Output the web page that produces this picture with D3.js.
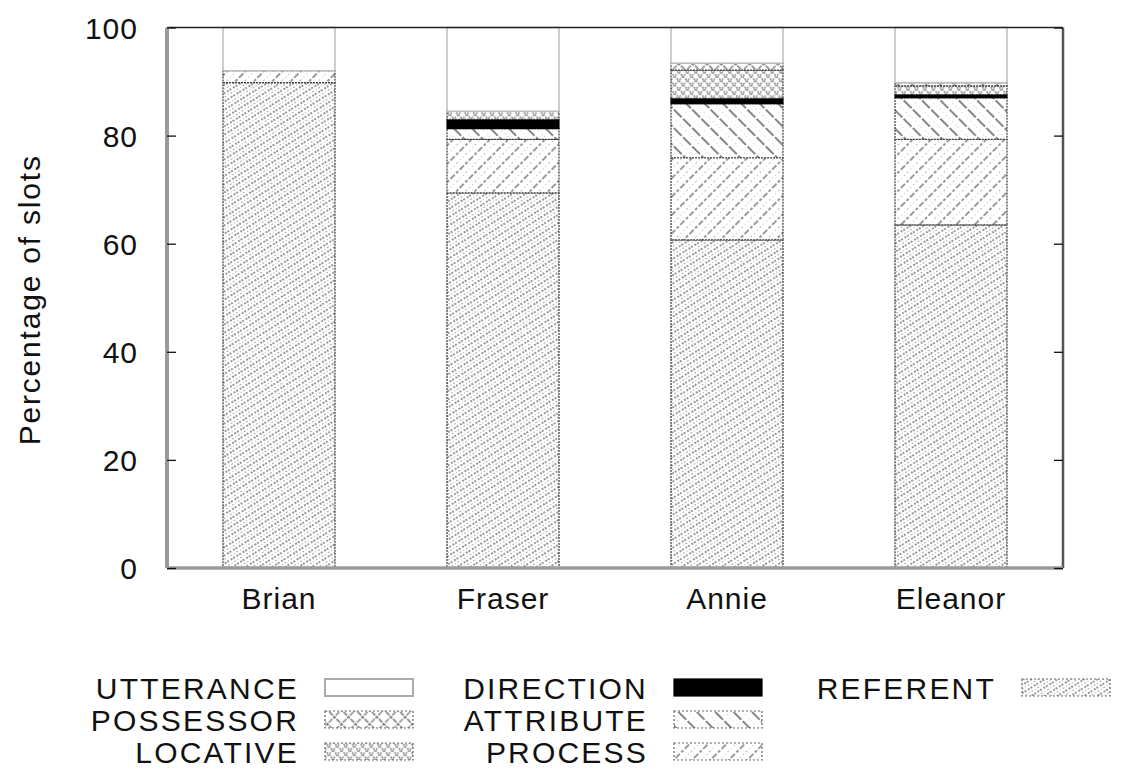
<!DOCTYPE html>
<html>
<head>
<meta charset="utf-8">
<script src="https://cdn.jsdelivr.net/npm/d3@7"></script>
<style>
  body { margin: 0; background: #fff; }
  text { font-family: "Liberation Sans", Arial, sans-serif; fill: #111; }
</style>
</head>
<body>
<svg id="chart" width="1122" height="776"></svg>
<script>
// speakers on the x axis
const speakers = ['Brian', 'Fraser', 'Annie', 'Eleanor']

// percentage of slots per slot type, stacked bottom -> top
const referent = [89.8, 69.4, 60.7, 63.5]
const process = [2.2, 9.9, 15.2, 15.8]
const attribute = [0, 2.0, 10.0, 7.7]
const direction = [0, 1.7, 1.0, 0.6]
const locative = [0, 1.5, 5.2, 1.6]
const possessor = [0, 0, 1.3, 0.6]
const utterance = [8.0, 15.5, 6.6, 10.2]

const yTicks = [0, 20, 40, 60, 80, 100]

// legend is listed top-of-stack first, in three columns
const legendColumns = [
  ['UTTERANCE', 'POSSESSOR', 'LOCATIVE'],
  ['DIRECTION', 'ATTRIBUTE', 'PROCESS'],
  ['REFERENT']
]

const seriesKeys = ['REFERENT', 'PROCESS', 'ATTRIBUTE', 'DIRECTION', 'LOCATIVE', 'POSSESSOR', 'UTTERANCE']
const seriesValues = {
  REFERENT: referent, PROCESS: process, ATTRIBUTE: attribute, DIRECTION: direction,
  LOCATIVE: locative, POSSESSOR: possessor, UTTERANCE: utterance
}

const table = speakers.map((s, i) => {
  const row = { speaker: s }
  seriesKeys.forEach(k => { row[k] = seriesValues[k][i] })
  return row
})

const svg = d3.select('#chart')
const margin = { top: 27.5, right: 59, bottom: 208, left: 167 }
const W = 1122, H = 776
const plotW = W - margin.left - margin.right
const plotH = H - margin.top - margin.bottom

// ---- fill patterns (gnuplot-ish hatching) ----
const defs = svg.append('defs')

function hatch(id, size, angle, lines) {
  const p = defs.append('pattern')
    .attr('id', id)
    .attr('patternUnits', 'userSpaceOnUse')
    .attr('width', size).attr('height', size)
    .attr('patternTransform', `rotate(${angle})`)
  p.append('rect').attr('width', size).attr('height', size).attr('fill', '#fff')
  lines.forEach(l => {
    p.append('line')
      .attr('x1', 0).attr('x2', size)
      .attr('y1', l.y).attr('y2', l.y)
      .attr('stroke', l.color)
      .attr('stroke-width', l.w)
      .attr('stroke-dasharray', l.dash || null)
  })
}

hatch('pat-referent', 7, -32, [
  { y: 2, color: '#777', w: 1.4, dash: '2,2' },
  { y: 5.5, color: '#a8a8a8', w: 1.1, dash: '1,2' }
])
hatch('pat-process', 13, -45, [
  { y: 3, color: '#7a7a7a', w: 1.3, dash: '3,2' },
  { y: 9.5, color: '#b8b8b8', w: 1, dash: '1,3' }
])
hatch('pat-attribute', 13, 45, [
  { y: 4, color: '#5e5e5e', w: 1.3, dash: '6,2' },
  { y: 10.5, color: '#cfcfcf', w: 1, dash: '1,4' }
])

// crosshatch patterns need two directions
function cross(id, size, color, w, dash) {
  const p = defs.append('pattern')
    .attr('id', id)
    .attr('patternUnits', 'userSpaceOnUse')
    .attr('width', size).attr('height', size)
    .attr('patternTransform', 'rotate(45)')
  p.append('rect').attr('width', size).attr('height', size).attr('fill', '#fff')
  p.append('line').attr('x1', 0).attr('x2', size).attr('y1', size / 2).attr('y2', size / 2)
    .attr('stroke', color).attr('stroke-width', w).attr('stroke-dasharray', dash)
  p.append('line').attr('y1', 0).attr('y2', size).attr('x1', size / 2).attr('x2', size / 2)
    .attr('stroke', color).attr('stroke-width', w).attr('stroke-dasharray', dash)
}
cross('pat-possessor', 10, '#777', 1.3, '3,1')
cross('pat-locative', 6, '#8a8a8a', 1.3, '2,1')

const fills = {
  REFERENT: 'url(#pat-referent)',
  PROCESS: 'url(#pat-process)',
  ATTRIBUTE: 'url(#pat-attribute)',
  DIRECTION: '#000',
  LOCATIVE: 'url(#pat-locative)',
  POSSESSOR: 'url(#pat-possessor)',
  UTTERANCE: '#fff'
}

// ---- scales ----
const x = d3.scaleBand()
  .domain(speakers)
  .range([margin.left, margin.left + plotW])
  .paddingInner(0.5)
  .paddingOuter(0.25)

const y = d3.scaleLinear()
  .domain([0, 100])
  .range([margin.top + plotH, margin.top])

const stacked = d3.stack().keys(seriesKeys)(table)

// ---- bars ----
const layers = svg.append('g').selectAll('g')
  .data(stacked)
  .enter()
  .append('g')

layers.selectAll('rect')
  .data(d => d.map(v => ({ key: d.key, v })))
  .enter()
  .append('rect')
  .filter(d => d.v[1] - d.v[0] > 0)
  .attr('x', d => x(d.v.data.speaker))
  .attr('width', x.bandwidth())
  .attr('y', d => y(d.v[1]))
  .attr('height', d => y(d.v[0]) - y(d.v[1]))
  .attr('fill', d => fills[d.key])
  .attr('stroke', d => d.key === 'UTTERANCE' ? '#bdbdbd' : (d.key === 'DIRECTION' ? '#000' : '#3a3a3a'))
  .attr('stroke-dasharray', d => d.key === 'UTTERANCE' || d.key === 'DIRECTION' ? null : '2,1')
  .attr('stroke-width', d => d.key === 'UTTERANCE' ? 1.5 : 1.2)

// ---- frame ----
const frame = svg.append('g')
frame.append('line')
  .attr('x1', margin.left).attr('x2', margin.left + plotW)
  .attr('y1', margin.top).attr('y2', margin.top)
  .attr('stroke', '#222').attr('stroke-width', 1.5)
frame.append('line')
  .attr('x1', margin.left + plotW).attr('x2', margin.left + plotW)
  .attr('y1', margin.top).attr('y2', margin.top + plotH)
  .attr('stroke', '#555').attr('stroke-width', 2.5)
frame.append('line')
  .attr('x1', margin.left).attr('x2', margin.left + plotW)
  .attr('y1', margin.top + plotH).attr('y2', margin.top + plotH)
  .attr('stroke', '#9a9a9a').attr('stroke-width', 3.5)
frame.append('line')
  .attr('x1', margin.left).attr('x2', margin.left)
  .attr('y1', margin.top).attr('y2', margin.top + plotH)
  .attr('stroke', '#9a9a9a').attr('stroke-width', 4)

// ---- axes ----
const yAxis = svg.append('g')
  .attr('transform', `translate(${margin.left},0)`)
  .call(d3.axisLeft(y).tickValues(yTicks).tickSize(-9).tickPadding(29))
yAxis.select('.domain').remove()
yAxis.selectAll('.tick line').attr('stroke', '#111').attr('stroke-width', 1.3)
yAxis.selectAll('text')
  .style('font-size', '30px')
  .style('letter-spacing', '1px')
  .attr('dy', '0.36em')
  .style('font-family', '"Liberation Sans", Arial, sans-serif')

const yAxisR = svg.append('g')
  .attr('transform', `translate(${margin.left + plotW},0)`)
  .call(d3.axisRight(y).tickValues(yTicks).tickSize(-9).tickFormat(''))
yAxisR.select('.domain').remove()
yAxisR.selectAll('.tick line').attr('stroke', '#111').attr('stroke-width', 1.3)

const xAxis = svg.append('g')
  .attr('transform', `translate(0,${margin.top + plotH})`)
  .call(d3.axisBottom(x).tickSize(0).tickPadding(20))
xAxis.select('.domain').remove()
xAxis.selectAll('text')
  .style('font-size', '30px')
  .style('letter-spacing', '1px')
  .attr('dy', '0.71em')
  .style('font-family', '"Liberation Sans", Arial, sans-serif')

// y label
svg.append('text')
  .attr('transform', `translate(40,${margin.top + plotH / 2 + 2}) rotate(-90)`)
  .attr('text-anchor', 'middle')
  .style('font-size', '30px')
  .style('letter-spacing', '1.8px')
  .text('Percentage of slots')

// ---- legend ----
const legend = svg.append('g').attr('transform', 'translate(0,699)')
const colX = [299, 648, 996]
legendColumns.forEach((col, ci) => {
  col.forEach((key, ri) => {
    const g = legend.append('g')
      .attr('transform', `translate(${colX[ci]},${ri * 32})`)
    g.append('text')
      .attr('text-anchor', 'end')
      .style('font-size', '30px')
      .style('letter-spacing', '2.2px')
      .text(key)
    g.append('rect')
      .attr('x', 26)
      .attr('y', -20)
      .attr('width', 88)
      .attr('height', 17)
      .attr('fill', fills[key])
      .attr('stroke', key === 'UTTERANCE' ? '#aaa' : (key === 'DIRECTION' ? '#000' : '#666'))
      .attr('stroke-dasharray', key === 'UTTERANCE' || key === 'DIRECTION' ? null : '2,2')
      .attr('stroke-width', key === 'UTTERANCE' ? 2 : 1.2)
  })
})
</script>
</body>
</html>
